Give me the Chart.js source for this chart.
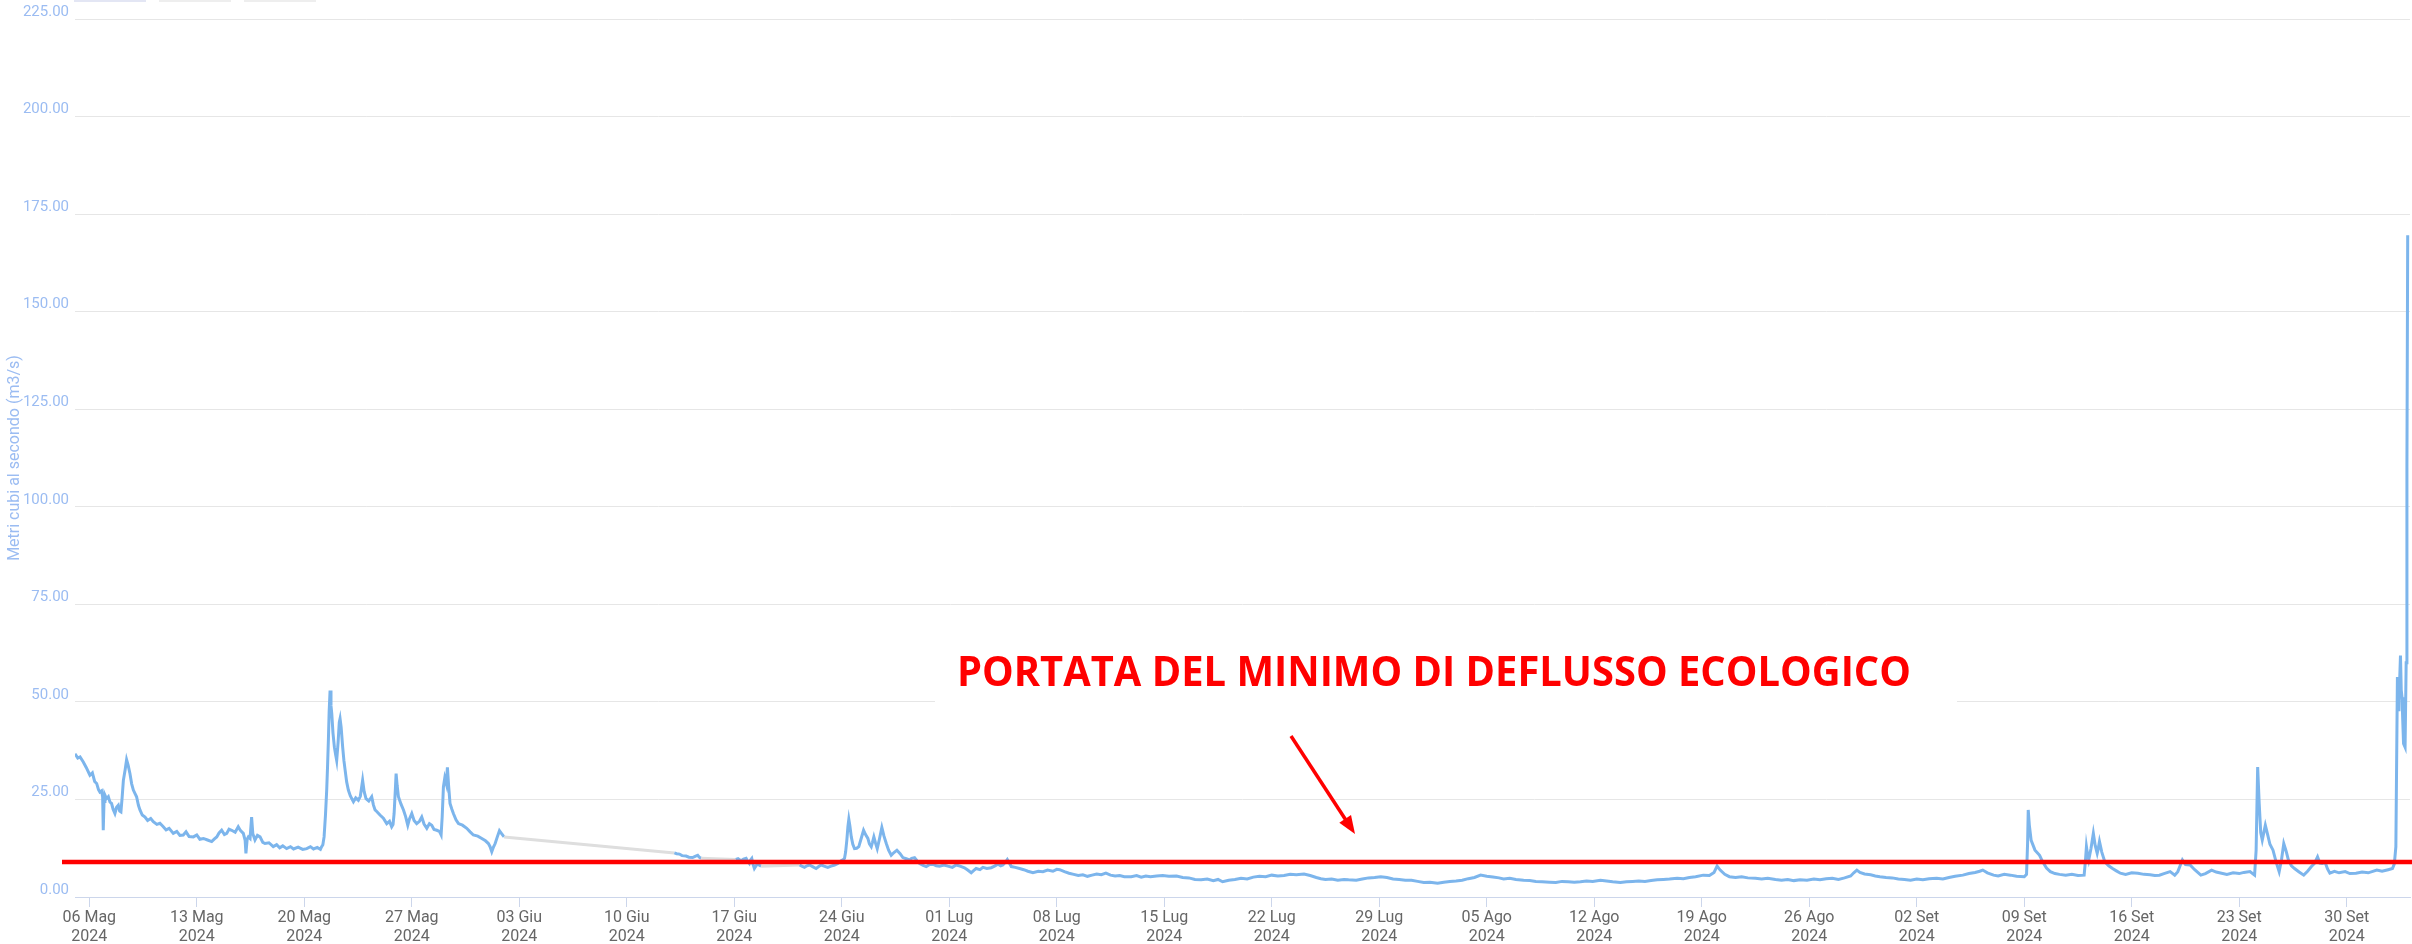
<!DOCTYPE html>
<html><head><meta charset="utf-8">
<script src="https://cdn.jsdelivr.net/npm/chart.js@4.4.1/dist/chart.umd.min.js"></script>
<style>html,body{margin:0;padding:0;background:#fff;overflow:hidden}#wrap{width:2412px;height:944px}</style>
</head><body><div id="wrap"><canvas id="c" width="2412" height="944"></canvas></div>
<script>
// Days after 06 May 2024 00:00
const tickDays = [0,7,14,21,28,35,42,49,56,63,70,77,84,91,98,105,112,119,126,133,140,147];
const tickLabels = ["06 Mag","13 Mag","20 Mag","27 Mag","03 Giu","10 Giu","17 Giu","24 Giu","01 Lug","08 Lug","15 Lug","22 Lug","29 Lug","05 Ago","12 Ago","19 Ago","26 Ago","02 Set","09 Set","16 Set","23 Set","30 Set"];
const tickYear = "2024";
const minFlow = 9; // portata del minimo di deflusso ecologico
const xRange = [-0.93, 151.12];

const dayOffsets = [
-0.93,-0.75,-0.6,-0.39,-0.2,0.04,0.2,0.35,0.48,0.6,0.69,0.8,0.87,0.91,0.96,1.02,1.12,1.24,1.35,1.45,1.55,1.67,1.78,1.89,1.98,2.06,2.14,2.22,2.33,2.43,2.53,2.65,2.76,2.87,2.98,3.08,3.2,3.3,3.45,3.63,3.8,4.0,4.17,4.4,4.6,4.82,5.0,5.2,5.47,5.7,5.9,6.12,6.3,6.5,6.78,7.0,7.2,7.43,7.7,7.97,8.15,8.3,8.45,8.62,8.8,8.95,9.1,9.27,9.5,9.7,9.85,10.03,10.15,10.2,10.28,10.36,10.47,10.57,10.65,10.79,10.95,11.12,11.3,11.44,11.7,11.98,12.2,12.4,12.6,12.85,13.1,13.3,13.6,13.9,14.16,14.4,14.6,14.85,15.05,15.13,15.21,15.29,15.38,15.46,15.52,15.57,15.62,15.68,15.74,15.79,15.87,15.96,16.04,16.11,16.2,16.28,16.33,16.4,16.5,16.58,16.66,16.76,16.87,17.0,17.2,17.35,17.52,17.65,17.8,17.9,18.02,18.2,18.39,18.5,18.61,18.75,18.93,19.15,19.37,19.55,19.69,19.78,19.85,19.93,19.98,20.05,20.13,20.3,20.46,20.6,20.74,20.85,21.0,21.15,21.32,21.5,21.65,21.8,21.98,22.15,22.3,22.45,22.63,22.8,22.91,22.98,23.06,23.15,23.25,23.32,23.4,23.49,23.6,23.71,23.88,24.04,24.3,24.58,24.8,25.01,25.3,25.56,25.8,25.99,26.1,26.21,26.32,26.43,26.57,26.71,26.86,27.01,
38.1,38.25,38.43,38.6,38.86,39.05,39.29,39.45,39.62,39.72,39.84,
42.1,42.25,42.44,42.6,42.77,42.88,42.98,43.06,43.14,43.22,43.31,43.42,43.53,43.64,43.75,
46.25,46.4,46.57,46.73,46.9,47.1,47.33,47.5,47.66,47.85,48.09,48.3,48.53,48.75,48.96,49.1,49.18,49.25,49.33,49.4,49.46,49.53,49.62,49.72,49.83,49.97,50.11,50.25,50.42,50.55,50.7,50.8,50.92,51.0,51.09,51.2,51.31,51.45,51.61,51.75,51.9,52.05,52.22,52.4,52.59,52.8,52.98,53.2,53.41,53.55,53.74,53.9,54.07,54.3,54.5,54.7,54.93,55.15,55.37,55.65,55.91,56.2,56.45,56.7,56.99,57.2,57.43,57.6,57.75,58.0,58.19,58.45,58.73,58.95,59.17,59.35,59.49,59.65,59.78,59.9,60.04,60.3,60.58,60.85,61.12,61.45,61.8,62.1,62.4,62.75,63.0,63.19,63.5,63.8,64.1,64.4,64.7,65.0,65.3,65.6,65.9,66.2,66.5,66.8,67.1,67.4,67.85,68.2,68.5,68.8,69.1,69.5,69.9,70.3,70.8,71.2,71.6,72.0,72.4,72.8,73.2,73.5,73.8,74.2,74.6,75.0,75.4,75.8,76.2,76.6,77.0,77.4,77.8,78.2,78.6,79.1,79.5,79.9,80.2,80.5,80.9,81.3,81.7,82.0,82.5,82.9,83.3,83.7,84.1,84.5,84.9,85.3,85.7,86.1,86.5,86.9,87.3,87.8,88.2,88.6,89.0,89.4,89.8,90.2,90.6,91.0,91.4,91.8,92.1,92.5,92.9,93.4,93.8,94.2,94.6,95.1,95.5,95.9,96.3,96.7,97.1,97.5,97.9,98.4,98.8,99.2,99.7,100.1,100.5,100.9,101.3,101.7,102.1,102.5,102.9,103.4,103.8,104.2,104.6,105.1,105.5,105.8,106.0,106.2,106.5,106.8,107.2,107.6,108.0,108.5,108.9,109.3,109.8,110.2,110.6,111.0,111.4,111.85,112.3,112.7,113.1,113.5,113.9,114.3,114.7,114.9,115.1,115.3,115.6,116.0,116.3,116.6,117.0,117.4,117.8,118.2,118.6,119.0,119.4,119.8,120.3,120.7,121.1,121.5,122.0,122.4,122.8,123.1,123.3,123.6,124.0,124.3,124.7,125.1,125.5,126.0,126.15,126.22,126.26,126.33,126.45,126.7,127.0,127.2,127.45,127.7,128.0,128.3,128.7,129.1,129.5,129.9,129.98,130.05,130.12,130.2,130.35,130.5,130.62,130.75,130.82,130.9,131.05,131.25,131.5,131.75,132.0,132.26,132.6,133.0,133.4,133.8,134.2,134.5,134.8,135.1,135.5,135.8,136.0,136.15,136.3,136.5,136.8,137.1,137.5,137.8,138.2,138.5,138.85,139.2,139.6,140.0,140.3,140.7,141.0,141.1,141.2,141.3,141.4,141.5,141.6,141.7,141.85,142.0,142.2,142.4,142.6,142.75,142.9,143.05,143.2,143.4,143.6,143.9,144.2,144.45,144.7,144.9,145.1,145.25,145.4,145.6,145.75,145.9,146.2,146.5,146.9,147.2,147.6,148.0,148.4,148.96,149.3,149.7,149.98,150.1,150.2,150.3,150.35,150.4,150.45,150.5,150.55,150.6,150.65,150.7,150.8,150.87,150.92,150.97
];
const flow = [
36.7,35.6,35.9,34.6,33.2,31.2,31.8,29.6,29.1,27.5,26.9,27.2,25.7,17.1,24.5,26.1,25.2,25.7,24.3,24.0,22.5,21.4,23.0,23.5,22.0,21.8,25.5,29.9,32.5,35.2,33.8,31.6,29.0,27.4,26.5,25.7,23.5,22.3,21.0,20.5,19.6,20.1,19.3,18.6,18.9,18.0,17.2,17.6,16.3,16.8,15.8,15.9,16.7,15.5,15.4,15.9,14.8,15.0,14.6,14.2,14.9,15.4,16.4,17.1,16.0,16.3,17.4,17.1,16.6,18.0,17.0,16.3,14.5,11.2,14.8,15.4,15.0,20.5,16.2,14.6,15.8,15.4,14.0,13.7,13.9,12.9,13.4,12.6,13.1,12.4,12.9,12.3,12.8,12.2,12.4,12.9,12.3,12.7,12.2,12.9,13.4,15.4,21.0,27.4,34.0,40.2,47.5,52.9,49.0,47.0,42.0,38.4,36.5,35.0,39.5,44.8,45.7,43.5,38.4,35.0,32.5,29.5,27.4,25.9,24.4,25.4,24.8,25.8,29.9,27.0,25.2,24.6,25.7,23.6,22.3,21.8,21.0,20.2,18.8,19.4,18.0,18.6,21.4,27.5,31.6,28.5,25.7,23.8,22.3,20.6,18.4,20.0,21.4,19.6,18.8,19.4,20.5,18.7,17.6,18.8,18.4,17.3,17.1,16.8,15.9,20.5,28.2,30.5,29.0,33.2,28.5,24.0,22.6,21.4,19.8,18.8,18.4,17.6,16.7,15.9,15.6,15.0,14.4,13.7,12.9,11.6,12.8,13.7,15.4,17.0,16.2,15.4,
11.3,11.1,11.0,10.6,10.5,10.2,10.1,10.4,10.7,10.2,9.9,
9.6,9.8,9.3,9.7,9.9,9.1,8.6,9.5,9.9,8.4,7.3,8.0,8.6,8.1,7.9,
8.2,7.9,7.6,8.0,8.2,7.8,7.3,7.8,8.2,7.9,7.6,7.9,8.2,8.6,9.3,9.6,9.9,11.5,14.6,18.0,19.9,18.2,15.4,13.5,12.4,12.5,12.9,14.8,17.1,16.0,15.0,13.6,12.9,14.0,15.4,13.8,12.4,14.8,17.8,15.6,13.7,12.0,10.7,11.4,12.0,11.1,10.1,9.8,9.5,9.9,10.1,9.3,8.6,8.1,7.8,8.3,8.4,8.0,7.9,8.2,7.9,7.6,8.2,7.9,7.5,6.9,6.2,6.8,7.3,7.0,7.6,7.3,7.5,7.9,8.4,8.0,8.2,8.9,9.6,8.8,7.8,7.6,7.3,7.0,6.6,6.2,6.6,6.5,6.9,6.6,7.1,7.0,6.5,6.1,5.8,5.5,5.7,5.3,5.6,5.9,5.7,6.1,5.6,5.4,5.5,5.2,5.2,5.5,5.1,5.4,5.2,5.4,5.5,5.3,5.4,5.0,4.9,4.5,4.4,4.6,4.2,4.5,3.9,4.3,4.5,4.8,4.6,5.1,5.3,5.2,5.6,5.4,5.5,5.8,5.7,5.9,5.5,5.0,4.7,4.5,4.6,4.3,4.5,4.4,4.3,4.6,4.9,5.0,5.2,5.0,4.6,4.5,4.3,4.3,4.0,3.7,3.8,3.5,3.8,4.0,4.1,4.3,4.7,5.0,5.6,5.3,5.1,4.9,4.6,4.8,4.5,4.3,4.2,4.0,3.9,3.8,3.7,4.0,3.9,3.8,3.9,4.1,4.0,4.3,4.1,3.9,3.7,3.9,4.0,4.1,4.0,4.2,4.4,4.5,4.6,4.8,4.7,5.0,5.2,5.6,5.5,6.3,7.9,6.9,5.8,5.2,5.0,5.2,4.9,4.8,4.6,4.8,4.5,4.3,4.5,4.2,4.4,4.3,4.6,4.4,4.7,4.8,4.5,4.9,5.4,6.2,6.9,6.3,5.9,5.7,5.4,5.2,5.0,4.9,4.6,4.5,4.3,4.6,4.4,4.7,4.8,4.6,5.0,5.3,5.6,6.0,6.3,6.6,6.9,6.2,5.6,5.4,5.8,5.6,5.3,5.2,5.8,14.0,22.3,18.5,14.5,12.0,10.7,9.0,7.4,6.5,6.0,5.8,5.6,5.8,5.5,5.6,9.0,12.9,11.0,9.5,12.5,16.3,13.2,11.2,12.4,14.2,11.5,9.0,8.0,7.3,6.7,6.1,5.8,6.2,6.1,5.8,5.7,5.5,5.6,6.0,6.5,5.6,6.5,8.0,9.5,8.3,8.2,7.0,5.6,6.0,6.9,6.4,6.1,5.8,6.2,6.0,6.3,6.5,5.6,12.0,33.3,24.0,16.5,14.6,16.5,18.4,16.0,13.5,12.0,9.0,6.5,9.5,13.7,11.8,9.5,8.0,7.3,6.4,5.6,6.6,7.8,8.6,10.3,8.7,8.6,8.8,7.2,6.1,6.6,6.2,6.5,6.0,6.1,6.4,6.2,6.9,6.6,7.0,7.3,8.5,12.9,56.4,48.0,50.4,56.0,61.9,53.0,51.2,45.0,39.3,38.4,60.0,110.0,169.6
];

const MONTH_COLOR = '#666666';
const Y_COLOR = '#9bbcf2';

const overlay = {
  id: 'overlay',
  beforeDatasetsDraw(chart) {
    const ctx = chart.ctx;
    ctx.save();
    ctx.fillStyle = '#ffffff';
    ctx.fillRect(935, 640, 1022, 100);
    ctx.fillStyle = '#e3e6f4'; ctx.fillRect(74, 0, 72, 2);
    ctx.fillStyle = '#eeeeee'; ctx.fillRect(159, 0, 72, 2);
    ctx.fillRect(244, 0, 72, 2);
    ctx.restore();
  },
  afterDatasetsDraw(chart) {
    const ctx = chart.ctx;
    const ys = chart.scales.y;
    ctx.save();
    const yr = ys.getPixelForValue(minFlow);
    ctx.strokeStyle = '#ff0000';
    ctx.lineWidth = 4.5;
    ctx.beginPath();
    ctx.moveTo(chart.chartArea.left - 13, yr);
    ctx.lineTo(chart.width, yr);
    ctx.stroke();
    const txt = 'PORTATA DEL MINIMO DI DEFLUSSO ECOLOGICO';
    ctx.font = 'bold 42px "Open Sans"';
    ctx.fillStyle = '#ff0000';
    ctx.textBaseline = 'alphabetic';
    ctx.textAlign = 'left';
    const w = ctx.measureText(txt).width;
    ctx.translate(957, 686);
    ctx.scale(954 / w, 1);
    ctx.fillText(txt, 0, 0);
    ctx.setTransform(1,0,0,1,0,0);
    const x0 = 1291, y0 = 736, x1 = 1355, y1 = 834;
    const ang = Math.atan2(y1 - y0, x1 - x0);
    ctx.strokeStyle = '#ff0000';
    ctx.lineWidth = 3.5;
    ctx.beginPath();
    ctx.moveTo(x0, y0);
    ctx.lineTo(x1 - 12 * Math.cos(ang), y1 - 12 * Math.sin(ang));
    ctx.stroke();
    ctx.fillStyle = '#ff0000';
    ctx.beginPath();
    ctx.moveTo(x1, y1);
    ctx.lineTo(x1 - 18 * Math.cos(ang) + 7 * Math.sin(ang), y1 - 18 * Math.sin(ang) - 7 * Math.cos(ang));
    ctx.lineTo(x1 - 18 * Math.cos(ang) - 7 * Math.sin(ang), y1 - 18 * Math.sin(ang) + 7 * Math.cos(ang));
    ctx.closePath();
    ctx.fill();
    ctx.restore();
  }
};

Chart.defaults.font.family = 'Roboto';
new Chart(document.getElementById('c'), {
  type: 'line',
  data: {
    datasets: [{
      data: dayOffsets.map((d, i) => ({ x: d, y: flow[i] })),
      borderColor: '#7cb5ec',
      borderWidth: 3,
      pointRadius: 0,
      tension: 0,
      fill: false,
      segment: {
        borderColor: c => (c.p1.parsed.x - c.p0.parsed.x > 2 ? '#dedede' : undefined)
      }
    }]
  },
  options: {
    responsive: false,
    animation: false,
    devicePixelRatio: 1,
    layout: { padding: { top: 19, right: 2, left: 0, bottom: 0 } },
    plugins: { legend: { display: false }, tooltip: { enabled: false } },
    scales: {
      x: {
        type: 'linear',
        min: xRange[0],
        max: xRange[1],
        afterBuildTicks: s => { s.ticks = tickDays.map(v => ({ value: v })); },
        afterFit: s => { s.height = 47; },
        grid: { drawOnChartArea: false, drawTicks: true, tickLength: 10, tickColor: '#ccd6eb' },
        border: { color: '#ccd6eb', width: 1 },
        ticks: {
          autoSkip: false, maxRotation: 0, padding: 1,
          color: MONTH_COLOR,
          font: { size: 16 },
          callback: (v, i) => [tickLabels[i], tickYear]
        }
      },
      y: {
        min: 0, max: 225,
        afterFit: s => { s.width = 75; },
        grid: { color: '#e6e6e6', drawTicks: false },
        border: { display: false },
        ticks: {
          stepSize: 25, padding: 6, labelOffset: -7,
          color: Y_COLOR, font: { size: 15 },
          callback: v => Number(v).toFixed(2)
        },
        title: {
          display: true, text: 'Metri cubi al secondo (m3/s)',
          color: Y_COLOR, font: { size: 16 }, padding: { top: 5, bottom: 0 }
        }
      }
    }
  },
  plugins: [overlay]
});
</script></body></html>
